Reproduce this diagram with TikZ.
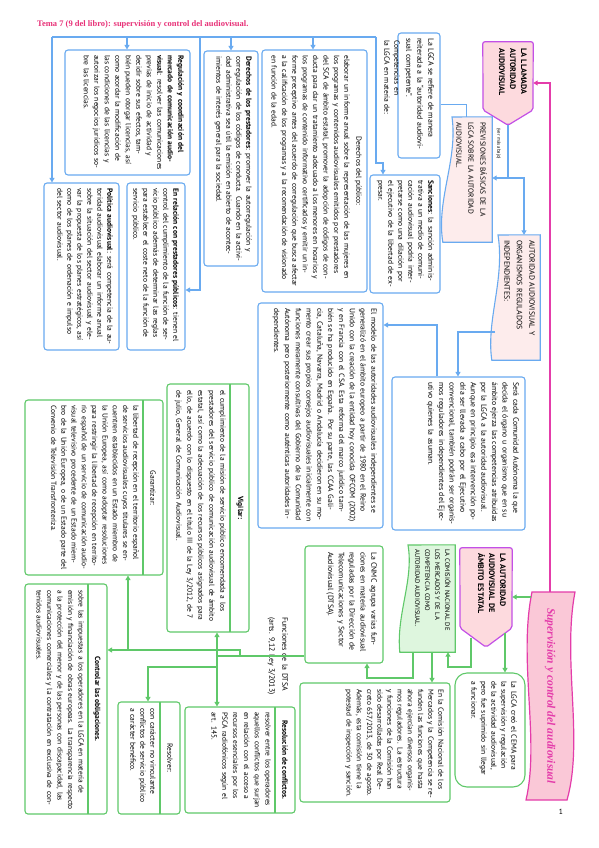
\documentclass[tikz,border=0pt]{standalone}
\usepackage{fontspec}
\setmainfont{PT Sans}
\newfontfamily\serfont{Liberation Serif}
\usetikzlibrary{arrows.meta,calc}
\definecolor{bl}{RGB}{105,170,240}
\definecolor{gr}{RGB}{95,200,105}
\definecolor{mag}{RGB}{228,60,170}
\definecolor{pur}{RGB}{195,80,230}
\definecolor{pinkfill}{RGB}{253,218,222}
\definecolor{lpink}{RGB}{253,236,236}
\definecolor{lgreen}{RGB}{222,246,222}
\definecolor{bannerfill}{RGB}{250,200,215}
\definecolor{titlepink}{RGB}{232,50,120}
\newcommand\fs{\fontsize{7.5}{10}\selectfont}
\newcommand\mkbox[6]{\node[#6, minimum width={#4-#2}, minimum height={#5-#3}] (#1) at ({(#2+#4)/2},{(#3+#5)/2}) {};}
\begin{document}
\begin{tikzpicture}[x=1pt,y=-1pt,
  bl line/.style={draw=bl, line width=1.1pt},
  barr/.style={bl line, -{Triangle[width=5pt,length=4.5pt]}},
  gl line/.style={draw=gr, line width=1.1pt},
  garr/.style={gl line, -{Triangle[width=5pt,length=4.5pt]}},
  marr/.style={draw=mag, line width=1.1pt, -{Triangle[width=5pt,length=4.5pt]}},
  bbox/.style={draw=bl, line width=1.1pt, rounded corners=3pt, fill=white, inner sep=0pt},
  gbox/.style={draw=gr, line width=1.1pt, rounded corners=3pt, fill=white, inner sep=0pt},
  ghost/.style={draw=none, inner sep=0pt},
  txt/.style={rotate=-90, anchor=north west, inner sep=0pt, font=\fs, align=left},
  htxt/.style={rotate=-90, anchor=center, inner sep=0pt, font=\fs}
]
\useasboundingbox (0,0) rectangle (599,848);
\fill[white] (0,0) rectangle (599,848);

% title
\node[anchor=west, inner sep=0pt, text=titlepink, font=\serfont\bfseries\fontsize{8.5}{10}\selectfont] (title) at (37,24) {Tema 7 (9 del libro): supervisión y control del audiovisual.};

% ---------- blue boxes ----------
\mkbox{lgca}{398}{33}{440}{158}{bbox}
\node[txt, text width=114pt, font=\fontsize{7.8}{11}\selectfont] (lgca-t) at (434,38) {La LGCA se refiere de manera reiterada a la “autoridad audiovisual competente”.};

\node[txt, text width=90pt, font=\fontsize{7.5}{10}\selectfont] (comp) at (400,40) {Competencias en\\la LGCA en materia de:};

\mkbox{sancion}{370}{175}{440}{293}{bbox}
\node[txt, text width=108pt] (sancion-t) at (434,180) {\textbf{Sanciones}: la sanción administrativa a un medio de comunicación audiovisual podría interpretarse como una dilación por el ejecutivo de la libertad de expresar.};

\mkbox{dpub}{262}{50}{367}{292}{bbox}
\node[htxt, anchor=north] (dpub-h) at (362,171) {Derechos del público:};
\node[txt, text width=232pt, font=\fontsize{7.5}{10.4}\selectfont] (dpub-t) at (350,55) {elaborar un informe anual sobre la representación de las mujeres en los programas y contenidos audiovisuales emitidos por prestadores del SCA de ámbito estatal, promover la adopción de códigos de conducta para dar un tratamiento adecuado a los menores en horarios y los programas de contenido informativo certificados y emitir un informe preceptivo antes del acuerdo de corregulación que busca afectar a la calificación de los programas y a la recomendación de visionado en función de la edad.};

\mkbox{dpres}{204}{51}{258}{266}{bbox}
\node[txt, text width=206pt] (dpres-t) at (252,56) {\textbf{Derechos de los prestadores}: promover la autorregulación y corregulación de los códigos de conducta. Cuando en la actividad administrativa sea útil la emisión en abierto de acontecimientos de interés general para la sociedad.};

\mkbox{regul}{65}{50}{190}{175}{bbox}
\node[txt, text width=115pt, font=\fontsize{7.5}{10.5}\selectfont] (regul-t) at (184,55) {\textbf{Regulación y coordinación del mercado de comunicación audiovisual}: resolver las comunicaciones previas de inicio de actividad y decidir sobre sus efectos, también pueden otorgar licencias, así como acordar la modificación de las condiciones de las licencias y autorizar los negocios jurídicos sobre las licencias.};

\mkbox{enrel}{127}{183}{185}{350}{bbox}
\node[txt, text width=158pt] (enrel-t) at (179,188) {\textbf{En relación con prestadores públicos}: tienen el control del cumplimiento de la función de servicio público además de determinar las reglas para establecer el coste neto de la función de servicio público.};

\mkbox{polit}{44}{183}{119}{350}{bbox}
\node[txt, text width=158pt] (polit-t) at (113,188) {\textbf{Política audiovisual}: será competencia de la autoridad audiovisual elaborar un informe anual sobre la situación del sector audiovisual y elevar la propuesta de los planes estratégicos, así como de los planes de ordenación e impulso del sector audiovisual.};

\mkbox{seracada}{392}{377}{525}{530}{bbox}
\node[txt, text width=143pt, font=\fontsize{7.7}{10.6}\selectfont] (seracada-t) at (519,382) {Será cada Comunidad Autónoma la que decida el órgano u organismo que en su ámbito ejerza las competencias atribuidas por la LGCA a la autoridad audiovisual. Aunque en principio esa intervención podría ser llevada a cabo por el Ejecutivo convencional, también podrán ser organismos reguladores independientes del Ejecutivo quienes la asuman.};

\mkbox{modelo}{258}{303}{383}{528}{bbox}
\node[txt, text width=216pt, font=\fontsize{7.6}{10.8}\selectfont] (modelo-t) at (377,308) {El modelo de las autoridades audiovisuales independientes se generalizó en el ámbito europeo a partir de 1980 en el Reino Unido con la creación de la entidad hoy conocida OFCOM (2002) y en Francia con el CSA. Esta reforma del marco jurídico también se ha producido en España. Por su parte, las CCAA Galicia, Cataluña, Navarra, Madrid o Andalucía decidieron en su momento crear sus propios consejos audiovisuales inicialmente con funciones meramente consultivas del Gobierno de la Comunidad Autónoma pero posteriormente como auténticas autoridades independientes.};

% pentagon: LA LLAMADA
\mkbox{llamada}{483}{42}{533}{125}{ghost}
\draw[draw=pur, line width=1.2pt, fill=pinkfill, rounded corners=2pt] (llamada.north west) -- (llamada.north east) -- (533,110) -- (llamada.south) -- (483,110) -- cycle;
\node[txt, text width=72pt, font=\bfseries\fontsize{8}{11}\selectfont] (llamada-t) at (527,48) {LA LLAMADA\\AUTORIDAD\\AUDIOVISUAL};
\node[txt, font=\fontsize{4.8}{5}\selectfont] (ver) at (501,128) {(ver más abajo)};

% wavy: PREVISIONES
\mkbox{previs}{443}{117}{492}{242}{ghost}
\draw[draw=bl, line width=1.1pt, fill=lpink] (previs.north east) -- (previs.south east) -- (previs.south west) .. controls (436,200) and (458,160) .. (452,117) -- cycle;
\node[txt, text width=120pt, font=\fontsize{7.4}{12}\selectfont] (previs-t) at (487,122) {PREVISIONES BÁSICAS DE LA\\LGCA SOBRE LA AUTORIDAD\\AUDIOVISUAL.};

% wavy: AUTORIDAD Y ORGANISMOS
\mkbox{autorg}{492}{235}{540}{360}{ghost}
\draw[draw=bl, line width=1.1pt, fill=lpink] (autorg.north east) -- (autorg.south east) -- (autorg.south west) .. controls (486,320) and (505,280) .. (498,235) -- cycle;
\node[txt, text width=120pt, font=\fontsize{7.7}{12.5}\selectfont] (autorg-t) at (535,240) {AUTORIDAD AUDIOVISUAL Y\\ORGANISMOS REGULADOS\\INDEPENDIENTES:};

% ---------- green part ----------
\mkbox{banner}{525}{592}{575}{800}{ghost}
\draw[draw=mag, line width=1.2pt, fill=bannerfill] (532,592) -- (575,592) .. controls (562,660) and (584,740) .. (567,800) -- (526,800) .. controls (540,740) and (518,660) .. cycle;
\node[htxt, text=mag, font=\serfont\itshape\bfseries\fontsize{11.5}{13}\selectfont] (banner-t) at (550,696) {Supervisión y control del audiovisual};

\mkbox{ambito}{460}{548}{512}{647}{ghost}
\draw[draw=pur, line width=1.2pt, fill=pinkfill, rounded corners=2pt] (ambito.north west) -- (ambito.north east) -- (512,628) -- (ambito.south) -- (460,628) -- cycle;
\node[txt, text width=80pt, font=\bfseries\fontsize{8}{11}\selectfont] (ambito-t) at (506,553) {LA AUTORIDAD\\AUDIOVISUAL DE\\ÁMBITO ESTATAL};

\mkbox{cnmcw}{400}{545}{455}{652}{ghost}
\draw[draw=gr, line width=1.1pt, fill=lgreen] (cnmcw.north east) -- (cnmcw.south east) -- (cnmcw.south west) .. controls (396,615) and (414,580) .. (408,545) -- cycle;
\node[txt, text width=100pt, font=\fontsize{6.6}{10}\selectfont] (cnmcw-t) at (451,549) {LA COMISIÓN NACIONAL DE\\LOS MERCADOS Y DE LA\\COMPETENCIA COMO\\AUTORIDAD AUDIOVISUAL.};

\mkbox{cnmc}{305}{546}{383}{663}{gbox}
\node[txt, text width=106pt, font=\fontsize{7.7}{10.8}\selectfont] (cnmc-t) at (377,552) {La CNMC agrupa varias funciones en materia audiovisual reguladas por la Dirección de Telecomunicaciones y Sector Audiovisual (DTSA).};

\mkbox{cema}{455}{673}{525}{787}{gbox, rounded corners=12pt}
\node[txt, text width=100pt] (cema-t) at (517,681) {La LGCA creó el CEMA para la supervisión y regulación de la actividad audiovisual, pero fue suprimido sin llegar a funcionar.};

\mkbox{encom}{300}{683}{450}{802}{gbox}
\node[txt, text width=110pt, font=\fontsize{7.4}{10.2}\selectfont] (encom-t) at (444,689) {En la Comisión Nacional de los Mercados y la Competencia se refunden las funciones que hasta ahora ejercían diversos organismos reguladores. La estructura y funciones de la Comisión han sido desarrolladas por Real Decreto 657/2013, de 30 de agosto. Además, esta comisión tiene la potestad de inspección y sanción.};

% boxes with header column
\mkbox{vigilar}{167}{384}{249}{632}{gbox}
\draw[gl line] (230,384) -- (230,632);
\node[htxt] (vigilar-h) at (240,508) {\textbf{Vigilar:}};
\node[txt, text width=238pt, font=\fontsize{7.4}{11}\selectfont] (vigilar-t) at (226,390) {el cumplimiento de la misión de servicio público encomendada a los prestadores del servicio público de comunicación audiovisual de ámbito estatal, así como la adecuación de los recursos públicos asignados para ello, de acuerdo con lo dispuesto en el título III de la Ley 3/2012, de 7 de julio, General de Comunicación Audiovisual.};

\mkbox{garant}{25}{400}{163}{575}{gbox}
\draw[gl line] (143,400) -- (143,575);
\node[htxt] (garant-h) at (153,488) {Garantizar:};
\node[txt, text width=166pt, font=\fontsize{7.5}{10.3}\selectfont] (garant-t) at (139,405) {la libertad de recepción en el territorio español de servicios audiovisuales cuyos titulares se encuentren establecidos en un Estado miembro de la Unión Europea, así como adoptar resoluciones para restringir la libertad de recepción en territorio español de un servicio de comunicación audiovisual televisivo procedente de un Estado miembro de la Unión Europea, o de un Estado parte del Convenio de Televisión Transfronteriza.};

\mkbox{control}{25}{584}{107}{814}{gbox}
\draw[gl line] (88,584) -- (88,814);
\node[htxt] (control-h) at (97,699) {\textbf{Controlar las obligaciones.}};
\node[txt, text width=222pt, font=\fontsize{7.4}{10.5}\selectfont] (control-t) at (84,590) {sobre las impuestas a los operadores en la LGCA en materia de emisión y financiación de obras europeas. La transparencia respecto a la protección del menor y de las personas con discapacidad, las comunicaciones comerciales y la contratación en exclusiva de contenidos audiovisuales.};

\mkbox{resolver}{118}{702}{180}{814}{gbox}
\draw[gl line] (160,702) -- (160,814);
\node[htxt] (resolver-h) at (170,758) {Resolver:};
\node[txt, text width=100pt] (resolver-t) at (156,708) {con carácter no vinculante conflictos de servicio público a carácter benéfico.};

\mkbox{resconf}{185}{707}{295}{813}{gbox}
\draw[gl line] (275,707) -- (275,813);
\node[htxt] (resconf-h) at (285,760) {\textbf{Resolución de conflictos.}};
\node[txt, text width=96pt, font=\fontsize{7.4}{10.8}\selectfont] (resconf-t) at (271,712) {resolver entre los operadores aquellos conflictos que surjan en relación con el acceso a recursos esenciales por los PSCA radiofónicos según el art. 145.};

\node[txt, text width=95pt, font=\fontsize{7.8}{13}\selectfont] (dtsa) at (288,617) {Funciones de la DTSA\\(arts. 9,12 Ley 3/2013)};

\node[anchor=center, inner sep=0pt, font=\fontsize{7.5}{8}\selectfont] (pagenum) at (561,812) {1};

% ---------- connectors ----------
% magenta
\draw[marr] (550,0 |- banner.north) -- (550,83) -- (llamada.east |- 0,83);
% blue
\draw[bl line] (llamada.south) -- (508,178);
\draw[barr] (508,178) -- (previs.east |- 0,178);
\draw[barr] (508,178) -- (524,178) -- (524,0 |- autorg.north);
\draw[draw=bl, line width=0.6pt] (lgca.east |- 0,104) -- (466,104) -- (466,0 |- previs.north);
\coordinate (trk) at (376,37);
\draw[bl line] (trk) -- (52,37);
\draw[barr] (trk) -- (376,163) -- (383,163) -- (383,0 |- sancion.north);
\draw[barr] (52,37) -- (52,0 |- polit.north);
\draw[barr] (127,37) -- (127,0 |- regul.north);
\draw[barr] (200,37) -- (200,290) -- (enrel.east |- 0,290);
\draw[barr] (231,37) -- (231,0 |- dpres.north);
\draw[barr] (313,37) -- (313,0 |- dpub.north);
\draw[barr] (495,332) -- (458,332) -- (458,0 |- seracada.north);
\draw[barr] (437,0 |- seracada.north) -- (437,325) -- (modelo.east |- 0,325);
% green
\draw[garr] (531,597) -- (ambito.east |- 0,597);
\draw[garr] (505,633) -- (505,0 |- cema.north);
\draw[garr] (471,638) -- (471,667) -- (448,667) -- (448,0 |- cnmcw.south);
\draw[garr] (432,0 |- cnmcw.south) -- (432,0 |- encom.north);
\draw[garr] (413,0 |- cnmcw.south) -- (413,678) -- (367,678) -- (367,0 |- cnmc.south);
\draw[gl line] (cnmc.west |- 0,656) -- (217,656);
\draw[garr] (217,656) -- (217,0 |- vigilar.south);
\draw[garr] (217,656) -- (217,0 |- resconf.north);
\draw[garr] (240,656) -- (240,650) -- (control.east |- 0,650);
\draw[garr] (128,650) -- (128,0 |- garant.south);
\draw[garr] (217,667) -- (148,667) -- (148,0 |- resolver.north);
\end{tikzpicture}
\end{document}
